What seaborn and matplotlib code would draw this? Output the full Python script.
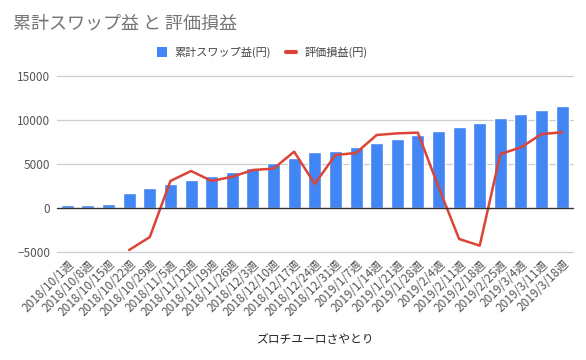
import matplotlib
matplotlib.use('Agg')
import matplotlib.pyplot as plt
import numpy as np
import pandas as pd
import seaborn as sns
from matplotlib.patches import Patch
from matplotlib.lines import Line2D

weeks = ['2018/10/1週', '2018/10/8週', '2018/10/15週', '2018/10/22週', '2018/10/29週',
         '2018/11/5週', '2018/11/12週', '2018/11/19週', '2018/11/26週', '2018/12/3週',
         '2018/12/10週', '2018/12/17週', '2018/12/24週', '2018/12/31週', '2019/1/7週',
         '2019/1/14週', '2019/1/21週', '2019/1/28週', '2019/2/4週', '2019/2/11週',
         '2019/2/18週', '2019/2/25週', '2019/3/4週', '2019/3/11週', '2019/3/18週']
swap = [320, 330, 450, 1700, 2270, 2720, 3180, 3630, 4090, 4550,
        5110, 5680, 6360, 6510, 6930, 7380, 7840, 8290, 8750, 9200,
        9650, 10220, 10680, 11130, 11590]
pnl = [np.nan, np.nan, np.nan, -4770, -3300, 3070, 4200, 3070, 3550, 4320,
       4470, 6400, 2730, 6020, 6250, 8290, 8480, 8560, 2400, -3520,
       -4280, 6130, 6890, 8400, 8600]
yticks = [-5000, 0, 5000, 10000, 15000]

BLUE = '#4285F4'
RED = '#DB4437'

sns.set_theme(style='white')
plt.rcParams['font.family'] = ['Noto Sans CJK JP', 'DejaVu Sans']

df = pd.DataFrame({'week': weeks, 'swap': swap, 'pnl': pnl})

fig = plt.figure(figsize=(5.86, 3.6), dpi=100)
ax = fig.add_axes([0.0973, 0.30, 0.8797, 0.489])

sns.barplot(data=df, x='week', y='swap', color=BLUE, width=0.63,
            saturation=1, ax=ax, zorder=2)
sns.lineplot(x=np.arange(len(weeks)), y=df['pnl'], color=RED, lw=1.8,
             ax=ax, zorder=3)

ax.set_xlim(-0.5, len(weeks) - 0.5)
ax.set_ylim(-5000, 15000)
ax.set_yticks(yticks)
# gridlines drawn by hand so the ones on the edges are not clipped
for t in yticks:
    if t == 0:
        ax.axhline(t, color='#333333', lw=1, zorder=4, clip_on=False)
    else:
        ax.axhline(t, color='#cccccc', lw=0.9, zorder=0, clip_on=False)
for s in ax.spines.values():
    s.set_visible(False)

ax.set_xticks(range(len(weeks)))
ax.set_xticklabels(weeks, rotation=45, ha='right', rotation_mode='anchor',
                   fontsize=8.5, color='#555555')
ax.tick_params(axis='x', length=0, pad=4)
ax.tick_params(axis='y', length=0, labelsize=8.5, labelcolor='#555555', pad=5)
ax.set_ylabel('')
ax.set_xlabel('ズロチユーロさやとり', fontsize=8.5, color='#222222', labelpad=10)

fig.text(0.022, 0.935, '累計スワップ益 と 評価損益', fontsize=13, color='#757575',
         va='center', ha='left')

handles = [Patch(facecolor=BLUE, edgecolor='none'),
           Line2D([0], [0], color=RED, lw=3)]
fig.legend(handles, ['累計スワップ益(円)', '評価損益(円)'], loc='center',
           bbox_to_anchor=(0.447, 0.855), ncol=2, frameon=False, fontsize=8,
           labelcolor='#444444', handlelength=0.9, handleheight=0.9,
           columnspacing=1.4, handletextpad=0.7)

fig.savefig('out.png', dpi=100)
